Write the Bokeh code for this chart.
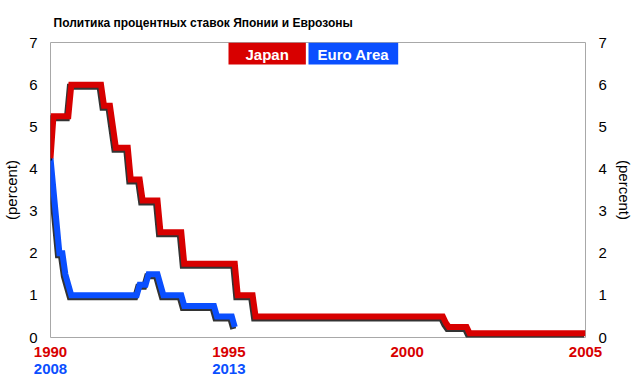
import numpy as np
from bokeh.plotting import figure
from bokeh.models import LinearAxis, FixedTicker, Label, ColumnDataSource
from bokeh.embed import file_html
from bokeh.resources import INLINE

# ---------------- data ----------------
title_text = "Политика процентных ставок Японии и Еврозоны"
series_names = ["Japan", "Euro Area"]
y_label = "(percent)"

# Japan policy rate path (monthly vertices, percent)
jp_dates = ["1990-01", "1990-02", "1990-07", "1990-08", "1991-06", "1991-07",
            "1991-09", "1991-10", "1991-11", "1992-03", "1992-04", "1992-07",
            "1992-08", "1993-01", "1993-02", "1993-09", "1993-10", "1995-03",
            "1995-04", "1995-09", "1995-10", "2001-01", "2001-02", "2001-03",
            "2001-09", "2001-10", "2005-01"]
jp_rates = [4.25, 5.25, 5.25, 6.0, 6.0, 5.5,
            5.5, 5.0, 4.5, 4.5, 3.75, 3.75,
            3.25, 3.25, 2.5, 2.5, 1.75, 1.75,
            1.0, 1.0, 0.5, 0.5, 0.35, 0.25,
            0.25, 0.1, 0.1]

# Euro Area policy rate path (monthly vertices, percent)
eu_dates = ["2008-09", "2008-10", "2008-11", "2008-12", "2009-01", "2009-02",
            "2009-03", "2009-04", "2011-02", "2011-03", "2011-05", "2011-06",
            "2011-09", "2011-10", "2011-11", "2012-05", "2012-06", "2013-04",
            "2013-05", "2013-10", "2013-11"]
eu_rates = [4.25, 3.5, 2.75, 2.0, 2.0, 1.5,
            1.25, 1.0, 1.0, 1.25, 1.25, 1.5,
            1.5, 1.25, 1.0, 1.0, 0.75, 0.75,
            0.5, 0.5, 0.25]

red_ticks = [1990, 1995, 2000, 2005]
red_tick_labels = ["1990", "1995", "2000", "2005"]
blue_ticks = [1990, 1995]
blue_tick_labels = ["2008", "2013"]
y_ticks = [0, 1, 2, 3, 4, 5, 6, 7]

# ---------------- styles ----------------
RED = "#d80000"
BLUE = "#0a4fff"
FONT = "Liberation Sans"
FW, FH = 535, 295
BL, BR, BT, BB = 44, 44, 36, 38
X0, X1, Y0, Y1 = 1990, 2005, 0, 7


def to_year(s):
    y, m = s.split("-")
    return int(y) + (int(m) - 1) / 12.0


jp_x = np.array([to_year(d) for d in jp_dates])
eu_raw = np.array([to_year(d) for d in eu_dates])
# align the start of both easing cycles
eu_x = eu_raw - (eu_raw[0] - jp_x[0])

# shadow offset: 1.5px left, 2px down
sdx = -1.5 * (X1 - X0) / FW
sdy = -2.0 * (Y1 - Y0) / FH

p = figure(frame_width=FW, frame_height=FH, x_range=(X0, X1), y_range=(Y0, Y1),
           output_backend="svg", toolbar_location=None,
           min_border_left=BL, min_border_right=BR,
           min_border_top=BT, min_border_bottom=BB)
p.background_fill_color = "white"
p.border_fill_color = "white"
p.outline_line_color = "#a8a8a8"
p.outline_line_width = 1
p.xgrid.visible = False
p.ygrid.visible = False

# title
p.title.text = title_text
p.title.text_font = FONT
p.title.text_font_size = "12px"
p.title.text_font_style = "bold"
p.title.text_color = "black"
p.title.align = "left"
p.title.offset = 3
p.title.standoff = 26

eu_src = ColumnDataSource(dict(x=eu_x, y=eu_rates,
                               sx=eu_x + sdx, sy=np.array(eu_rates) + sdy))
jp_src = ColumnDataSource(dict(x=jp_x, y=jp_rates,
                               sx=jp_x + sdx, sy=np.array(jp_rates) + sdy))

for src, col in ((eu_src, BLUE), (jp_src, RED)):
    p.line("sx", "sy", source=src, line_width=6, line_color="black",
           line_alpha=0.8, line_join="miter")
    p.line("x", "y", source=src, line_width=6, line_color=col,
           line_join="miter")


def style_axis(ax, size, color, bold, standoff):
    ax.axis_line_color = None
    ax.major_tick_line_color = None
    ax.minor_tick_line_color = None
    ax.major_tick_out = 0
    ax.major_tick_in = 0
    ax.minor_tick_out = 0
    ax.minor_tick_in = 0
    ax.major_label_text_font = FONT
    ax.major_label_text_font_size = size
    ax.major_label_text_color = color
    ax.major_label_text_font_style = "bold" if bold else "normal"
    ax.major_label_standoff = standoff


def style_ylabel(ax):
    ax.axis_label = y_label
    ax.axis_label_text_font = FONT
    ax.axis_label_text_font_size = "15px"
    ax.axis_label_text_font_style = "normal"
    ax.axis_label_text_color = "black"
    ax.axis_label_standoff = 6


xa = p.xaxis[0]
xa.ticker = FixedTicker(ticks=red_ticks)
xa.major_label_overrides = {t: l for t, l in zip(red_ticks, red_tick_labels)}
style_axis(xa, "15px", RED, True, 9)

xb = LinearAxis(ticker=FixedTicker(ticks=blue_ticks))
xb.major_label_overrides = {t: l for t, l in zip(blue_ticks, blue_tick_labels)}
style_axis(xb, "15px", BLUE, True, 4)
p.add_layout(xb, "below")

ya = p.yaxis[0]
ya.ticker = FixedTicker(ticks=y_ticks)
style_axis(ya, "15px", "black", False, 13)
style_ylabel(ya)

yb = LinearAxis(ticker=FixedTicker(ticks=y_ticks))
style_axis(yb, "15px", "black", False, 13)
style_ylabel(yb)
p.add_layout(yb, "right")

# legend boxes (left edge in frame pixels)
legend_left_px = [178, 258]
legend_pad = [17, 9]
for name, col, lx, pad in zip(series_names, (RED, BLUE), legend_left_px, legend_pad):
    p.add_layout(Label(x=X0 + lx * (X1 - X0) / FW, y=Y1, text=name,
                       anchor="top_left", text_font=FONT, text_font_size="15px",
                       text_font_style="bold", text_color="white",
                       background_fill_color=col,
                       padding=dict(left=pad, right=pad, top=3, bottom=2)))

open("out.html", "w").write(file_html(p, INLINE))
